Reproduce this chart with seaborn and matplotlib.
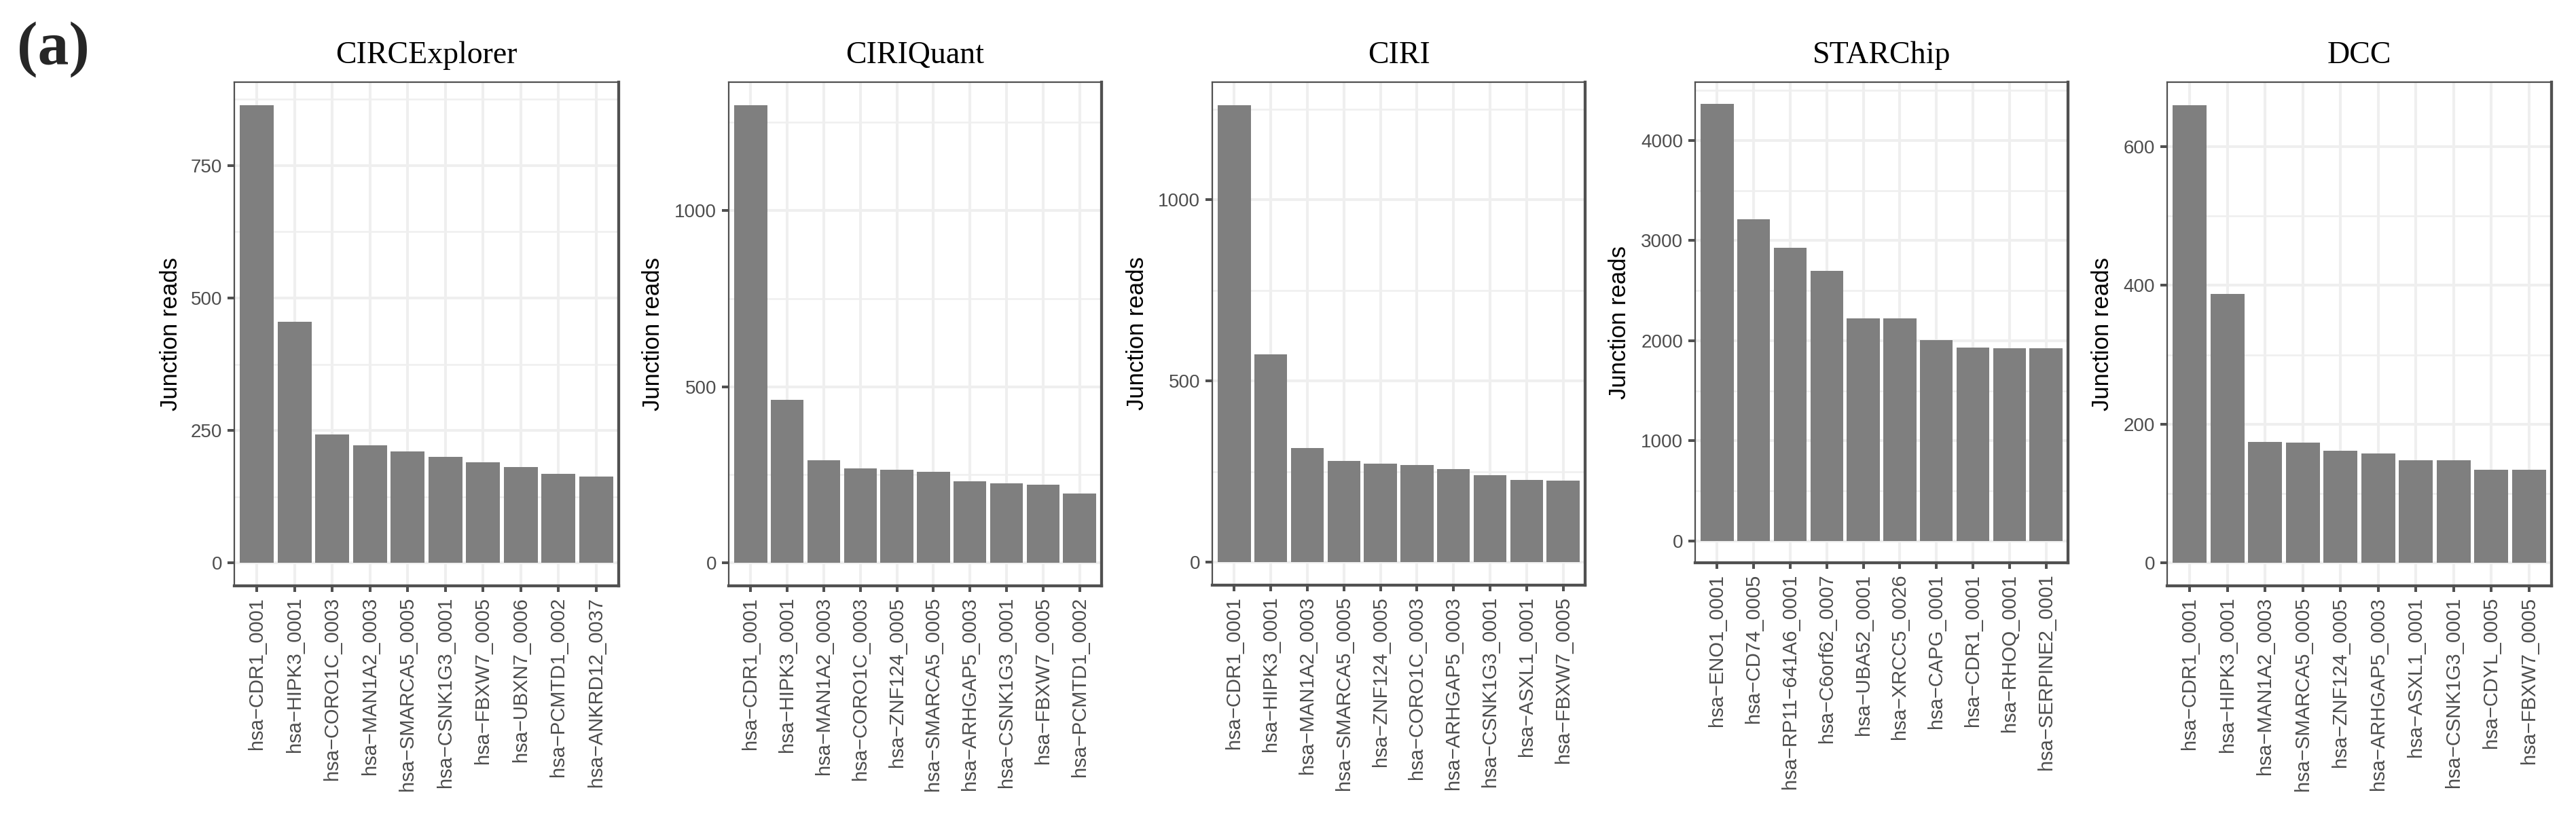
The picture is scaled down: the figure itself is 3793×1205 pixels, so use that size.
import matplotlib
matplotlib.use("Agg")
import matplotlib.pyplot as plt
import seaborn as sns
from matplotlib.ticker import MultipleLocator, FixedLocator

# Data: top 10 circRNAs per tool
circexplorer_names = ['hsa-CDR1_0001', 'hsa-HIPK3_0001', 'hsa-CORO1C_0003', 'hsa-MAN1A2_0003',
                      'hsa-SMARCA5_0005', 'hsa-CSNK1G3_0001', 'hsa-FBXW7_0005', 'hsa-UBXN7_0006',
                      'hsa-PCMTD1_0002', 'hsa-ANKRD12_0037']
circexplorer_reads = [864, 455, 243, 222, 211, 200, 190, 181, 168, 163]

ciriquant_names = ['hsa-CDR1_0001', 'hsa-HIPK3_0001', 'hsa-MAN1A2_0003', 'hsa-CORO1C_0003',
                   'hsa-ZNF124_0005', 'hsa-SMARCA5_0005', 'hsa-ARHGAP5_0003', 'hsa-CSNK1G3_0001',
                   'hsa-FBXW7_0005', 'hsa-PCMTD1_0002']
ciriquant_reads = [1299, 463, 291, 268, 265, 259, 232, 225, 222, 197]

ciri_names = ['hsa-CDR1_0001', 'hsa-HIPK3_0001', 'hsa-MAN1A2_0003', 'hsa-SMARCA5_0005',
              'hsa-ZNF124_0005', 'hsa-CORO1C_0003', 'hsa-ARHGAP5_0003', 'hsa-CSNK1G3_0001',
              'hsa-ASXL1_0001', 'hsa-FBXW7_0005']
ciri_reads = [1261, 573, 316, 279, 272, 269, 257, 240, 228, 226]

starchip_names = ['hsa-ENO1_0001', 'hsa-CD74_0005', 'hsa-RP11-641A6_0001', 'hsa-C6orf62_0007',
                  'hsa-UBA52_0001', 'hsa-XRCC5_0026', 'hsa-CAPG_0001', 'hsa-CDR1_0001',
                  'hsa-RHOQ_0001', 'hsa-SERPINE2_0001']
starchip_reads = [4365, 3214, 2927, 2698, 2224, 2224, 2005, 1932, 1927, 1927]

dcc_names = ['hsa-CDR1_0001', 'hsa-HIPK3_0001', 'hsa-MAN1A2_0003', 'hsa-SMARCA5_0005',
             'hsa-ZNF124_0005', 'hsa-ARHGAP5_0003', 'hsa-ASXL1_0001', 'hsa-CSNK1G3_0001',
             'hsa-CDYL_0005', 'hsa-FBXW7_0005']
dcc_reads = [660, 388, 174, 173, 162, 158, 148, 148, 134, 134]

titles = ['CIRCExplorer', 'CIRIQuant', 'CIRI', 'STARChip', 'DCC']
tick_steps = [250, 500, 500, 1000, 200]

panels = [
    (circexplorer_names, circexplorer_reads),
    (ciriquant_names, ciriquant_reads),
    (ciri_names, ciri_reads),
    (starchip_names, starchip_reads),
    (dcc_names, dcc_reads),
]

sns.set_style('white')
plt.rcParams['font.family'] = ['Liberation Sans', 'DejaVu Sans']

W, H = 3793, 1205
fig = plt.figure(figsize=(W / 100, H / 100), dpi=100)

# panel boxes in pixels: left, right, top, bottom
boxes = [(345, 911, 121, 863), (1073, 1622, 121, 863), (1785, 2334, 121, 862),
         (2496, 3045, 121, 829), (3191, 3757, 121, 863)]
ylabel_x = [-0.166, -0.204, -0.202, -0.204, -0.168]

edge = '#505050'
grid_c = '#EFEFEF'

for i, ((names, reads), title, step) in enumerate(zip(panels, titles, tick_steps)):
    l, r, t, b = boxes[i]
    ax = fig.add_axes([l / W, 1 - b / H, (r - l) / W, (b - t) / H])
    sns.barplot(x=names, y=reads, order=names, ax=ax, color='#7F7F7F', saturation=1,
                width=0.9, linewidth=0, errorbar=None, zorder=2)
    top = max(reads)
    ax.set_xlim(-0.6, len(names) - 0.4)
    ax.set_ylim(-0.05 * top, 1.05 * top)
    ax.yaxis.set_major_locator(MultipleLocator(step))
    ax.yaxis.set_minor_locator(MultipleLocator(step / 2))
    ax.set_axisbelow(True)
    ax.grid(False)
    ax.xaxis.grid(True, which='major', color=grid_c, linewidth=2.9, zorder=0)
    ax.yaxis.grid(True, which='major', color=grid_c, linewidth=2.9, zorder=0)
    ax.yaxis.grid(True, which='minor', color=grid_c, linewidth=1.8, zorder=0)
    ax.set_xticks(range(len(names)))
    ax.set_xticklabels([n.replace('-', '\u2212') for n in names], rotation=90,
                       fontsize=21, color='#4D4D4D')
    ax.tick_params(axis='y', which='major', labelsize=20, labelcolor='#4D4D4D',
                   length=7.2, width=2.9, color=edge, pad=5.5, left=True)
    ax.tick_params(axis='x', which='major', length=6.5, width=2.9, color=edge,
                   pad=5.5, bottom=True)
    ax.tick_params(which='minor', length=0)
    for side in ['left', 'top']:
        ax.spines[side].set_linewidth(1.6)
        ax.spines[side].set_color(edge)
    for side in ['right', 'bottom']:
        ax.spines[side].set_linewidth(3.1)
        ax.spines[side].set_color(edge)
    for s in ax.spines.values():
        s.set_visible(True)
    ax.set_xlabel('')
    ax.set_ylabel('Junction reads', fontsize=25, color='black', va='center')
    ax.yaxis.set_label_coords(ylabel_x[i], 0.5)
    ax.set_title(title, fontsize=33, family=['Liberation Serif', 'DejaVu Serif'],
                 pad=20, color='black')

fig.text(25 / W, 1 - 95 / H, '(a)', fontsize=66, fontweight='bold',
         family=['Liberation Serif', 'DejaVu Serif'], ha='left', va='baseline')

fig.savefig('out.png', dpi=100)
